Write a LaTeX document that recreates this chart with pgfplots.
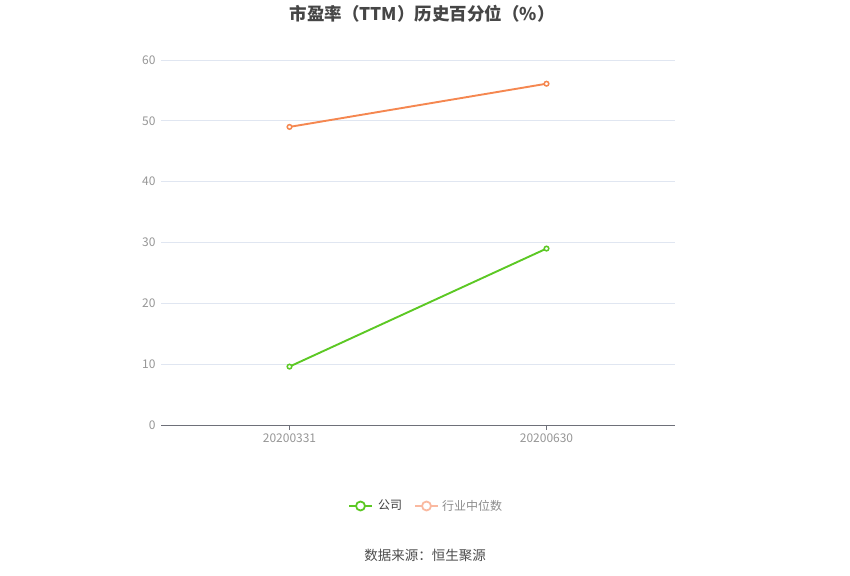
\documentclass[border=0pt]{standalone}
\usepackage{pgfplots}
\pgfplotsset{compat=1.18}
\usepackage{fontspec}
\setmainfont{Noto Sans CJK SC}
\definecolor{cgreen}{RGB}{92,200,36}
\definecolor{corange}{RGB}{245,135,80}
\definecolor{corangel}{RGB}{250,185,160}
\definecolor{cgrid}{RGB}{224,230,241}
\definecolor{ctick}{RGB}{150,150,150}
\definecolor{caxis}{RGB}{110,112,121}
\definecolor{ctitle}{RGB}{70,70,70}
\begin{document}
\begin{tikzpicture}[x=1pt,y=1pt]
\path (0,0) rectangle (850,575);
\begin{axis}[
  at={(161pt,150pt)}, anchor=south west,
  scale only axis, width=514pt, height=365pt,
  xmin=-0.5, xmax=1.5, ymin=0, ymax=60,
  xtick={0,1}, xticklabels={20200331,20200630},
  ytick={0,10,20,30,40,50,60},
  ymajorgrids, grid style={cgrid, line width=0.8pt},
  axis x line*=bottom, axis y line*=left,
  x axis line style={caxis, line width=0.8pt, -},
  y axis line style={draw=none},
  xtick style={caxis, line width=0.8pt},
  major tick length=5pt,
  xtick align=outside,
  ytick style={draw=none},
  yticklabel style={xshift=-2pt},
  tick label style={font=\fontsize{12}{14}\selectfont, text=ctick},
  /pgf/number format/assume math mode=true,
  clip=false,
]
\addplot[cgreen, line width=1.9pt, mark=*, mark size=2.3pt, mark options={fill=white, line width=1.5pt}] coordinates {(0,9.6) (1,29.0)};
\addplot[corange, line width=1.9pt, mark=*, mark size=2.3pt, mark options={fill=white, line width=1.5pt}] coordinates {(0,49.0) (1,56.1)};
\end{axis}
\node[font=\fontsize{17.5}{20}\selectfont\bfseries, text=ctitle] at (422,561) {市盈率（TTM）历史百分位（\%）};
% legend
\draw[cgreen, line width=1.8pt] (349,69) -- (372,69);
\draw[cgreen, line width=1.8pt, fill=white] (360.5,69) circle (4.5pt);
\node[anchor=west, inner sep=0pt, font=\fontsize{12}{14}\selectfont, text=black!75] at (378,69.5) {公司};
\draw[corangel, line width=1.8pt] (415,69) -- (438,69);
\draw[corangel, line width=1.8pt, fill=white] (426.5,69) circle (4.5pt);
\node[anchor=west, inner sep=0pt, font=\fontsize{12}{14}\selectfont, text=black!45] at (442,69.5) {行业中位数};
\node[font=\fontsize{13.5}{15}\selectfont, text=black!70] at (425,20) {数据来源：恒生聚源};
\end{tikzpicture}
\end{document}
